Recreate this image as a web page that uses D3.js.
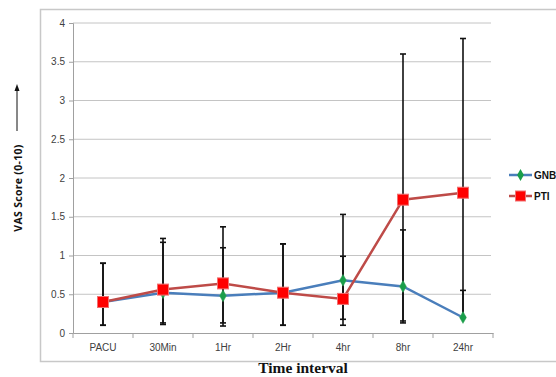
<!DOCTYPE html>
<html><head><meta charset="utf-8">
<script src="https://cdn.jsdelivr.net/npm/d3@7"></script>
<style>html,body{margin:0;padding:0;background:#fff;overflow:hidden}</style>
</head><body>
<svg id="c" width="556" height="377"></svg>
<script>
const categories = ["PACU","30Min","1Hr","2Hr","4hr","8hr","24hr"];
const gnbValues = [0.40,0.52,0.48,0.52,0.68,0.60,0.20];
const ptiValues = [0.40,0.56,0.64,0.52,0.44,1.72,1.81];
const gnbUpper = [0.90,1.17,1.10,1.15,1.53,1.33,0.55];
const gnbLower = [0.10,0.11,0.09,0.10,0.10,0.155,0.20];
const ptiUpper = [0.90,1.22,1.37,1.15,0.99,3.60,3.80];
const ptiLower = [0.10,0.13,0.13,0.10,0.177,0.13,0.20];
const yTicks = [0,0.5,1,1.5,2,2.5,3,3.5,4];
const seriesNames = ["GNB","PTI"];

const svg = d3.select("#c");
const font = "'Liberation Sans', Arial, sans-serif";

// outer border
svg.append("rect").attr("x",40.5).attr("y",9.5).attr("width",530).attr("height",352)
  .attr("fill","none").attr("stroke","#c8c8c8").attr("stroke-width",1.5);

const x = d3.scaleBand().domain(categories).range([73,493]);
const y = d3.scaleLinear().domain([0,4]).range([333,23]);

// gridlines
svg.append("g").selectAll("line").data(yTicks.filter(d=>d>0)).join("line")
  .attr("x1",73).attr("x2",491).attr("y1",d=>y(d)).attr("y2",d=>y(d))
  .attr("stroke","#c4c4c4").attr("stroke-width",1);

// y axis
const yAxis = svg.append("g").attr("transform","translate(73,0)")
  .call(d3.axisLeft(y).tickValues(yTicks).tickSize(4).tickPadding(4).tickFormat(d3.format("")));
yAxis.select(".domain").attr("stroke","#a0a0a0");
yAxis.selectAll(".tick line").attr("stroke","#a0a0a0");
yAxis.selectAll("text").attr("font-family",font).attr("font-size",10).attr("fill","#404040");

// x axis
const xAxis = svg.append("g").attr("transform","translate(0,333)")
  .call(d3.axisBottom(x).tickSize(0).tickPadding(11));
xAxis.select(".domain").attr("stroke","#a0a0a0");
xAxis.selectAll("text").attr("font-family",font).attr("font-size",10).attr("fill","#404040");
const bounds = categories.map(c=>x(c)).concat([x(categories[categories.length-1])+x.bandwidth()]);
svg.append("g").selectAll("line").data(bounds).join("line")
  .attr("x1",d=>d).attr("x2",d=>d).attr("y1",333).attr("y2",338)
  .attr("stroke","#a0a0a0");

const cx = c => x(c) + x.bandwidth()/2;

// error bars
function errBars(lower, upper){
  const g = svg.append("g").attr("stroke","#111").attr("stroke-width",1.6);
  categories.forEach((c,i)=>{
    g.append("line").attr("x1",cx(c)).attr("x2",cx(c)).attr("y1",y(lower[i])).attr("y2",y(upper[i]));
    [lower[i],upper[i]].forEach(v=>{
      g.append("line").attr("x1",cx(c)-3).attr("x2",cx(c)+3).attr("y1",y(v)).attr("y2",y(v));
    });
  });
}
errBars(gnbLower,gnbUpper);
errBars(ptiLower,ptiUpper);

const line = d3.line().x((d,i)=>cx(categories[i])).y(d=>y(d));
svg.append("path").datum(gnbValues).attr("d",line).attr("fill","none")
  .attr("stroke","#4a7ebb").attr("stroke-width",2.5);
svg.append("path").datum(ptiValues).attr("d",line).attr("fill","none")
  .attr("stroke","#be4b48").attr("stroke-width",2.5);

const diamond = d3.symbol().type(d3.symbolDiamond).size(40);
svg.append("g").selectAll("path").data(gnbValues).join("path")
  .attr("d",diamond).attr("transform",(d,i)=>`translate(${cx(categories[i])},${y(d)})`)
  .attr("fill","#1a9e4a").attr("stroke","#3aa860").attr("stroke-width",0.5);
svg.append("g").selectAll("rect").data(ptiValues).join("rect")
  .attr("x",(d,i)=>cx(categories[i])-5.5).attr("y",d=>y(d)-5.5)
  .attr("width",11).attr("height",11)
  .attr("fill","#ff0000").attr("stroke","#f07070").attr("stroke-width",1);

// legend
const lg = svg.append("g");
[0,1].forEach(i=>{
  const ly = 175 + i*21;
  lg.append("line").attr("x1",509).attr("x2",532).attr("y1",ly).attr("y2",ly)
    .attr("stroke", i===0?"#4a7ebb":"#be4b48").attr("stroke-width",2.5);
  if(i===0){
    lg.append("path").attr("d",diamond).attr("transform",`translate(520.5,${ly})`).attr("fill","#1a9e4a");
  } else {
    lg.append("rect").attr("x",515.5).attr("y",ly-5).attr("width",10).attr("height",10)
      .attr("fill","#ff0000").attr("stroke","#f07070");
  }
  lg.append("text").attr("x",534).attr("y",ly+4).text(seriesNames[i])
    .attr("font-family",font).attr("font-size",10).attr("font-weight","bold").attr("fill","#111");
});

// y title + arrow
svg.append("text").attr("transform","translate(22,188) rotate(-90)").attr("text-anchor","middle")
  .attr("font-family","'Open Sans', "+font).attr("font-size",10.5).attr("font-weight","bold").attr("fill","#111")
  .attr("letter-spacing",0.3)
  .text("VAS Score (0-10)");
svg.append("line").attr("x1",17).attr("x2",17).attr("y1",131).attr("y2",90)
  .attr("stroke","#111").attr("stroke-width",1);
svg.append("path").attr("d","M17,84 L14.5,91 L19.5,91 Z").attr("fill","#111");

// x title
svg.append("text").attr("x",303).attr("y",373).attr("text-anchor","middle")
  .attr("font-family","'Liberation Serif', 'DejaVu Serif', serif").attr("font-size",15.5).attr("font-weight","bold").attr("fill","#111")
  .text("Time interval");
</script>
</body></html>
